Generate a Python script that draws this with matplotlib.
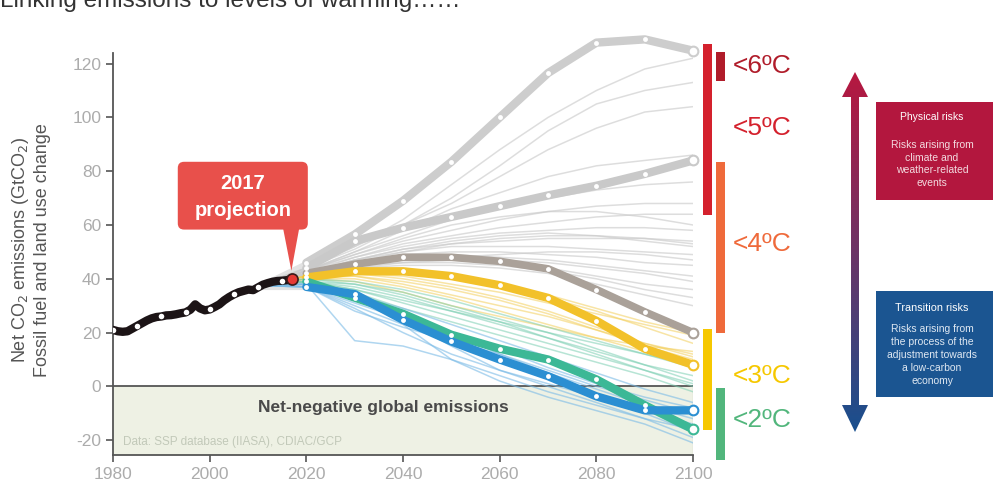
import numpy as np
import matplotlib
matplotlib.use("Agg")
import matplotlib.pyplot as plt
from matplotlib.patches import Rectangle, FancyBboxPatch, Polygon

plt.rcParams['font.family'] = ['Liberation Sans', 'DejaVu Sans']
plt.rcParams['axes.unicode_minus'] = False

# historical emissions 1980-2017
hist_years = list(range(1980, 2018))
hist_vals = [21, 20.5, 20.3, 20.5, 21.5, 22.5, 23.5, 24.5, 25.3, 25.8,
             26, 26.4, 26.5, 26.8, 27.2, 27.5, 28.5, 30.5, 29, 28.3,
             28.6, 29.5, 30.5, 32, 33.2, 34.2, 35, 35.5, 36, 35.8,
             36.8, 37.8, 38.4, 38.9, 39.2, 39.3, 39.5, 40]
hist_dot_years = [1980, 1985, 1990, 1995, 2000, 2005, 2010, 2015]

# scenario years
scen_years = [2020, 2030, 2040, 2050, 2060, 2070, 2080, 2090, 2100]

# highlighted scenarios
hi_grey1 = [46, 56.5, 69, 83.5, 100, 116.5, 127.8, 129, 124.8]
hi_grey2 = [44, 54, 59, 63, 67, 71, 74.6, 79, 84]
hi_taupe = [42, 45.4, 48, 48, 46.5, 43.7, 36, 27.7, 20]
hi_yellow = [40.5, 42.8, 42.8, 41, 37.6, 32.9, 24.4, 14, 8]
hi_teal = [39, 33, 27, 19.2, 14, 10, 2.6, -7, -16]
hi_blue = [37, 34.3, 24.7, 16.7, 10, 3.8, -3.7, -8.9, -8.9]

# background scenarios (2010 anchor + decadal values)
fan_start = (2010, 37.5)
grey_thin = [
    [44, 52, 62, 75, 88, 100, 110, 118, 122],
    [44, 51, 60, 70, 82, 95, 105, 110, 113],
    [44, 52, 60, 68, 78, 88, 96, 102, 104],
    [43, 50, 58, 66, 72, 78, 82, 84, 86],
    [43, 50, 56, 62, 66, 70, 73, 75, 76],
    [43, 49, 54, 58, 62, 65, 67, 68, 68],
    [43, 48, 53, 56, 59, 61, 63, 64, 64],
    [42, 48, 52, 55, 57, 58, 59, 59, 58],
    [42, 47, 51, 53, 54, 55, 55, 55, 54],
    [42, 47, 50, 52, 52, 52, 51, 50, 49],
    [42, 46, 49, 50, 50, 49, 48, 46, 45],
    [42, 46, 48, 49, 48, 47, 45, 43, 41],
    [42, 45, 47, 47, 46, 44, 41, 38, 36],
    [41, 45, 47, 48, 49, 50, 50, 49, 47],
    [41, 45, 46, 46, 45, 43, 40, 36, 33],
    [41, 44, 45, 45, 44, 42, 38, 34, 30],
    [43, 49, 55, 60, 63, 65, 65, 63, 60],
    [42, 47, 51, 54, 56, 57, 56, 54, 52],
    [41, 44, 46, 47, 47, 46, 44, 42, 39],
    [42, 46, 50, 53, 55, 56, 56, 55, 53],
]
yellow_thin = [
    [41, 42, 40, 37, 33, 28, 22, 16, 12],
    [41, 43, 42, 40, 37, 33, 28, 22, 16],
    [40, 41, 38, 34, 30, 26, 21, 16, 11],
    [41, 42, 41, 38, 35, 31, 27, 23, 19],
    [40, 40, 37, 33, 28, 23, 18, 13, 9],
    [41, 43, 43, 41, 38, 34, 29, 24, 20],
    [40, 39, 35, 30, 26, 22, 18, 15, 13],
    [41, 41, 39, 36, 32, 27, 21, 15, 10],
]
teal_thin = [
    [39, 37, 33, 28, 23, 18, 13, 8, 4],
    [39, 38, 35, 30, 25, 20, 14, 8, 2],
    [39, 36, 31, 26, 21, 16, 11, 6, 1],
    [40, 38, 34, 29, 24, 18, 12, 6, 0],
    [39, 35, 29, 24, 19, 14, 9, 4, -2],
    [39, 36, 32, 28, 24, 20, 16, 12, 8],
    [40, 39, 36, 32, 27, 22, 17, 12, 7],
]
blue_thin = [
    [38, 17, 15, 10, 4, -2, -7, -12, -16],
    [37, 31, 25, 18, 11, 4, -3, -10, -17],
    [38, 33, 25, 15, 6, 0, -6, -12, -19],
    [37, 29, 20, 12, 6, 1, -4, -9, -14],
    [38, 35, 28, 20, 12, 5, -1, -7, -12],
    [37, 30, 23, 10, 2, -4, -9, -14, -21],
    [38, 34, 29, 23, 17, 11, 5, -1, -6],
    [37, 28, 22, 17, 12, 6, 0, -5, -10],
    [38, 32, 26, 20, 14, 7, 1, -4, -8],
]

# temperature bands (emission range at 2100)
bands = [  # label, lo, hi, column, colour, label_y
    ('<6ºC', 113.4, 124.4, 1, '#b01c2a', 119),
    ('<5ºC', 63.9, 127.4, 0, '#d4212d', 96),
    ('<4ºC', 20, 83.5, 1, '#ef6a3b', 53),
    ('<3ºC', -16.2, 21.4, 0, '#f6c800', 4),
    ('<2ºC', -27.3, -0.7, 1, '#52b67c', -12.6),
]

fig = plt.figure(figsize=(9.93, 4.9), dpi=100)
fig.patch.set_facecolor('white')
ax = fig.add_axes([0.1138, 0.0714, 0.5842, 0.8592])
ax.set_xlim(1980, 2100)
ax.set_ylim(-25.5, 131)

# net negative area
ax.add_patch(Rectangle((1980, -25.5), 120, 25.5, fc='#eef1e4', ec='none', zorder=0))
ax.axhline(0, color='#555555', lw=1.3, zorder=1)
ax.plot([2100, 2100], [-25.5, 0], color='#9a9a9a', lw=0.8, zorder=1)
ax.text(2036, -8, 'Net-negative global emissions', ha='center', va='center',
        fontsize=12.5, fontweight='bold', color='#4a4a4a', zorder=6)
ax.text(1982, -20.5, 'Data: SSP database (IIASA), CDIAC/GCP', ha='left', va='center',
        fontsize=8.5, color='#c2c9b9', zorder=6)

# fan wedge before 2020
ax.fill_between([2008, 2020], [36, 36], [36.5, 47], color='#e2e2e2', zorder=1, lw=0)

thin_x = [fan_start[0]] + scen_years
for group, col, a in [(grey_thin, '#cccccc', 0.65), (yellow_thin, '#f3cf5c', 0.55),
                      (teal_thin, '#7dcfb3', 0.55), (blue_thin, '#7bbbe6', 0.6)]:
    for vals in group:
        ax.plot(thin_x, [fan_start[1]] + vals, color=col, lw=1.1, alpha=a, zorder=2)

for vals, col, lw in [(hi_grey1, '#cdcdcd', 6), (hi_grey2, '#c9c9c9', 6),
                      (hi_taupe, '#aaa199', 5.5), (hi_yellow, '#f2c12a', 6),
                      (hi_teal, '#3cb896', 6), (hi_blue, '#2b8fd2', 6)]:
    ax.plot(scen_years, vals, color=col, lw=lw, solid_capstyle='round',
            solid_joinstyle='round', zorder=3, clip_on=False)
    ax.plot(scen_years[:-1], vals[:-1], 'o', color='white', ms=3.5, mew=0, zorder=4, clip_on=False)
    ax.plot(scen_years[-1], vals[-1], 'o', mfc='white', mec=col, ms=7, mew=1.5, zorder=4, clip_on=False)

# historical
ax.plot(hist_years, hist_vals, color='#1c1416', lw=6, solid_capstyle='round', zorder=5)
ax.plot(hist_dot_years, [hist_vals[y - 1980] for y in hist_dot_years], 'o',
        color='white', ms=4, mew=0, zorder=6)
ax.plot(2017, 40, 'o', mfc='#e53935', mec='#3a1a1a', ms=8, mew=1.2, zorder=7)

# 2017 projection callout
red = '#e8504b'
ax.add_patch(FancyBboxPatch((1993.4, 58.3), 26.9, 25.2,
                            boxstyle='round,pad=0,rounding_size=1.3',
                            mutation_aspect=1.78, fc=red, ec='none', zorder=7))
ax.add_patch(Polygon([(2015.2, 58.6), (2018.5, 58.6), (2016.9, 43)],
                     closed=True, fc=red, ec='none', zorder=7))
ax.text(2006.85, 75.5, '2017', ha='center', va='center', fontsize=14.5,
        fontweight='bold', color='white', zorder=8)
ax.text(2006.85, 65.5, 'projection', ha='center', va='center', fontsize=14.5,
        fontweight='bold', color='white', zorder=8)

# temperature bands
for label, lo, hi, c, colr, ly in bands:
    x0 = 2102.1 if c == 0 else 2104.8
    ax.add_patch(Rectangle((x0, lo), 1.8, hi - lo, fc=colr, ec='none', clip_on=False))
    ax.text(2108.1, ly, label, ha='left', va='center', fontsize=19, color=colr, clip_on=False)

# axes styling
for s in ['top', 'right']:
    ax.spines[s].set_visible(False)
ax.spines['left'].set_bounds(-25.5, 124)
for s in ['left', 'bottom']:
    ax.spines[s].set_color('#555555')
    ax.spines[s].set_linewidth(1.3)
ax.set_xticks([1980, 2000, 2020, 2040, 2060, 2080, 2100])
ax.set_yticks([-20, 0, 20, 40, 60, 80, 100, 120])
ax.tick_params(colors='#555555', labelcolor='#acacac', labelsize=12.5, length=5, width=1.2)

fig.text(0.021, 0.49, 'Net CO$_2$ emissions (GtCO$_2$)', rotation=90, ha='center', va='center',
         fontsize=13, color='#555555')
fig.text(0.043, 0.49, 'Fossil fuel and land use change', rotation=90, ha='center', va='center',
         fontsize=13, color='#555555')

# title, cut off at the top of the image as in the source
fig.text(0.0, 0.986, 'Linking emissions to levels of warming……', ha='left', va='baseline',
         fontsize=17.5, color='#333333')

# right panel in pixel coordinates
ov = fig.add_axes([0, 0, 1, 1], zorder=10)
ov.set_xlim(0, 993)
ov.set_ylim(490, 0)
ov.axis('off')
ov.patch.set_alpha(0)

arrow = Polygon([(855, 72), (868, 97), (859, 97), (859, 405), (868, 405), (855, 432),
                 (842, 405), (851, 405), (851, 97), (842, 97)], closed=True,
                fc='none', ec='none')
ov.add_patch(arrow)
top_c = np.array(matplotlib.colors.to_rgb('#b8173f'))
mid_c = np.array(matplotlib.colors.to_rgb('#6c3466'))
bot_c = np.array(matplotlib.colors.to_rgb('#17508f'))
t = np.linspace(0, 1, 256)[:, None, None]
grad = np.where(t < 0.5, (1 - 2 * t) * top_c + 2 * t * mid_c,
                (2 - 2 * t) * mid_c + (2 * t - 1) * bot_c)
im = ov.imshow(grad, extent=(840, 870, 435, 70), origin='upper', aspect='auto', zorder=2)
im.set_clip_path(arrow)

ov.add_patch(Rectangle((876, 102), 117, 98, fc='#b3173e', ec='none'))
ov.text(932, 117, 'Physical risks', ha='center', va='center', fontsize=7.5, color='white')
ov.text(932, 164, 'Risks arising from\nclimate and\nweather-related\nevents', ha='center',
        va='center', fontsize=7.5, color='#f3dbe0', linespacing=1.35)

ov.add_patch(Rectangle((876, 291), 117, 106, fc='#1b5591', ec='none'))
ov.text(932, 308, 'Transition risks', ha='center', va='center', fontsize=7.8, color='white')
ov.text(932, 355, 'Risks arising from\nthe process of the\nadjustment towards\na low-carbon\neconomy',
        ha='center', va='center', fontsize=7.5, color='#dfe8f2', linespacing=1.35)

fig.savefig('out.png', dpi=100)
